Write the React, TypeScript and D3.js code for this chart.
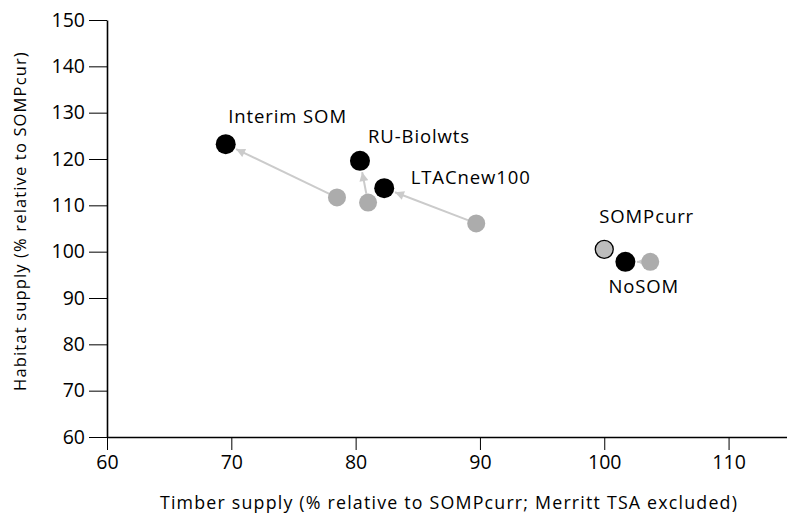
import { useEffect, useRef } from "react";
import * as d3 from "d3";

const W = 787;
const H = 518;

// scenario names and values (% relative to SOMPcurr)
const names = ["Interim SOM", "RU-Biolwts", "LTACnew100", "NoSOM"];
const beforeTimber = [78.5, 81.0, 89.7, 103.7];
const beforeHabitat = [111.7, 110.6, 106.1, 97.8];
const afterTimber = [69.55, 80.35, 82.3, 101.7];
const afterHabitat = [123.2, 119.6, 113.7, 97.8];

const baseName = "SOMPcurr";
const baseTimber = 100;
const baseHabitat = 100.5;

const xTicks = [60, 70, 80, 90, 100, 110];
const yTicks = [60, 70, 80, 90, 100, 110, 120, 130, 140, 150];

const FONT = "'Open Sans', sans-serif";

export default function App() {
  const svgRef = useRef<SVGSVGElement>(null);

  useEffect(() => {
    document.body.style.margin = "0";
    if (!svgRef.current) return;
    const svg = d3.select(svgRef.current);
    svg.selectAll("*").remove();

    const margin = { top: 20, right: 0, bottom: 81, left: 107 };
    const x = d3.scaleLinear().domain([60, 114.7]).range([margin.left, W - margin.right]);
    const y = d3.scaleLinear().domain([60, 150]).range([H - margin.bottom, margin.top]);

    svg
      .append("defs")
      .append("marker")
      .attr("id", "arrow")
      .attr("viewBox", "0 0 10 10")
      .attr("refX", 10)
      .attr("refY", 5)
      .attr("markerWidth", 5)
      .attr("markerHeight", 4.5)
      .attr("orient", "auto")
      .attr("markerUnits", "strokeWidth")
      .append("path")
      .attr("d", "M0,0L10,5L0,10z")
      .attr("fill", "#cbcbcb");

    // x axis
    const xAxis = svg
      .append("g")
      .attr("transform", `translate(0,${y(60)})`)
      .call(d3.axisBottom(x).tickValues(xTicks).tickSize(13).tickPadding(5).tickSizeOuter(0));
    xAxis.select(".domain").attr("stroke", "#000").attr("stroke-width", 1.6);
    xAxis.selectAll(".tick line").attr("stroke", "#000").attr("stroke-width", 1);
    xAxis.selectAll("text").style("font-family", FONT).style("font-size", "19.5px").attr("fill", "#000");

    // y axis
    const yAxis = svg
      .append("g")
      .attr("transform", `translate(${x(60)},0)`)
      .call(d3.axisLeft(y).tickValues(yTicks).tickSize(18).tickPadding(4).tickSizeOuter(0));
    yAxis.select(".domain").attr("stroke", "#000").attr("stroke-width", 1.6);
    yAxis.selectAll(".tick line").attr("stroke", "#000").attr("stroke-width", 1);
    yAxis.selectAll("text").style("font-family", FONT).style("font-size", "19.5px").attr("fill", "#000");

    // titles
    svg
      .append("text")
      .attr("x", 449)
      .attr("y", 509)
      .attr("text-anchor", "middle")
      .style("font-family", FONT)
      .style("font-size", "17.8px")
      .style("letter-spacing", "1.2px")
      .text("Timber supply (% relative to SOMPcurr; Merritt TSA excluded)");

    svg
      .append("text")
      .attr("transform", `translate(26,221) rotate(-90)`)
      .attr("text-anchor", "middle")
      .style("font-family", FONT)
      .style("font-size", "16.5px")
      .style("letter-spacing", "1.15px")
      .text("Habitat supply (% relative to SOMPcur)");

    const rGray = 9;
    const rBlack = 10;

    // arrows from before (gray) to after (black)
    names.forEach((_, i) => {
      const x1 = x(beforeTimber[i]);
      const y1 = y(beforeHabitat[i]);
      const x2 = x(afterTimber[i]);
      const y2 = y(afterHabitat[i]);
      const len = Math.hypot(x2 - x1, y2 - y1);
      const ux = (x2 - x1) / len;
      const uy = (y2 - y1) / len;
      svg
        .append("line")
        .attr("x1", x1 + ux * rGray)
        .attr("y1", y1 + uy * rGray)
        .attr("x2", x2 - ux * (rBlack + 1.5))
        .attr("y2", y2 - uy * (rBlack + 1.5))
        .attr("stroke", "#cbcbcb")
        .attr("stroke-width", 2)
        .attr("marker-end", "url(#arrow)");
    });

    // gray points
    svg
      .append("g")
      .selectAll("circle")
      .data(names.map((_, i) => i))
      .join("circle")
      .attr("cx", (i) => x(beforeTimber[i]))
      .attr("cy", (i) => y(beforeHabitat[i]))
      .attr("r", rGray)
      .attr("fill", "#acacac");

    // base point
    svg
      .append("circle")
      .attr("cx", x(baseTimber))
      .attr("cy", y(baseHabitat))
      .attr("r", rBlack - 1)
      .attr("fill", "#bdbdbd")
      .attr("stroke", "#000")
      .attr("stroke-width", 1.3);

    // black points
    svg
      .append("g")
      .selectAll("circle")
      .data(names.map((_, i) => i))
      .join("circle")
      .attr("cx", (i) => x(afterTimber[i]))
      .attr("cy", (i) => y(afterHabitat[i]))
      .attr("r", rBlack)
      .attr("fill", "#000");

    // labels
    const labelOffsets: [number, number][] = [
      [2.5, -21],
      [8, -18],
      [26.5, -4],
      [-17, 31],
    ];
    const labelStyle = (t: d3.Selection<SVGTextElement, unknown, null, undefined>) =>
      t.style("font-family", FONT).style("font-size", "18.5px").style("letter-spacing", "0.9px");
    names.forEach((n, i) => {
      svg
        .append("text")
        .attr("x", x(afterTimber[i]) + labelOffsets[i][0])
        .attr("y", y(afterHabitat[i]) + labelOffsets[i][1])
        .call(labelStyle)
        .text(n);
    });
    svg
      .append("text")
      .attr("x", x(baseTimber) - 5)
      .attr("y", y(baseHabitat) - 26)
      .call(labelStyle)
      .text(baseName);
  }, []);

  return <svg ref={svgRef} width={W} height={H} style={{ display: "block", background: "#fff" }} />;
}
